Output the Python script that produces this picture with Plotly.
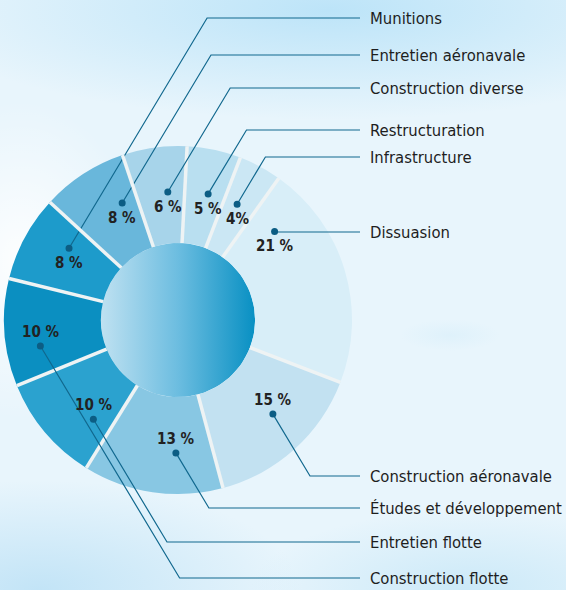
import numpy as np
import plotly.graph_objects as go

W, H = 566, 590

# données : répartition des crédits (sens horaire depuis midi)
postes = ["Restructuration", "Infrastructure", "Dissuasion", "Construction aéronavale",
          "Études et développement", "Entretien flotte", "Construction flotte",
          "Munitions", "Entretien aéronavale", "Construction diverse"]
parts = [5, 4, 21, 15, 13, 10, 10, 8, 8, 6]
etiquettes = ["5 %", "4%", "21 %", "15 %", "13 %", "10 %", "10 %", "8 %", "8 %", "6 %"]

couleurs = ["#b9dff0", "#cbe7f4", "#d8eef8", "#c2e1f1", "#88c7e3",
            "#2ba2cf", "#0b8fc1", "#1d9bcb", "#69b7db", "#a7d4ea"]

# mise en page
CX, CY, R = 178, 320, 174
TROU = 0.443
ROTATION = 3
label_y = [130, 157, 232, 476, 508, 542, 578, 18, 55, 88]
pos_point = [0.58, 0.42, 0.16, 0.44, 0.34, 0.24, 0.32, 0.68, 0.76, 0.65]
rayon_point = [0.745, 0.747, 0.753, 0.768, 0.764, 0.75, 0.805, 0.75, 0.745, 0.738]
X_FIN = 360
PENTE = 0.6
bleu_trait = "#11688e"
police = "DejaVu Sans Condensed, Liberation Sans Narrow, Roboto, sans-serif"

fig = go.Figure()


def nuage(cx, cy, rx, ry, rgb, alpha):
    t = np.linspace(0, 2 * np.pi, 80)
    fig.add_trace(go.Scatter(
        x=cx + rx * np.cos(t), y=cy + ry * np.sin(t), mode="lines",
        line=dict(width=0), fill="toself", hoverinfo="skip", showlegend=False,
        fillgradient=dict(type="radial", colorscale=[
            [0, "rgba(%d,%d,%d,%.2f)" % (rgb + (alpha,))],
            [1, "rgba(%d,%d,%d,0)" % rgb]])))


# fond ciel
nuage(330, 10, 420, 110, (186, 227, 248), 0.95)
nuage(40, 590, 260, 110, (190, 226, 246), 0.9)
nuage(470, 590, 220, 80, (196, 230, 247), 0.8)
nuage(450, 335, 50, 16, (205, 234, 249), 0.35)
nuage(20, 260, 120, 160, (255, 255, 255), 0.9)

# disque central
t = np.linspace(0, 2 * np.pi, 120)
fig.add_trace(go.Scatter(
    x=CX + TROU * R * np.cos(t), y=CY + TROU * R * np.sin(t), mode="lines",
    line=dict(width=0), fill="toself", hoverinfo="skip", showlegend=False,
    fillgradient=dict(type="horizontal",
                      colorscale=[[0, "#bfe1f1"], [0.5, "#6cbde0"], [1, "#0890c3"]])))

fig.add_trace(go.Pie(
    labels=postes, values=parts, sort=False, direction="clockwise",
    rotation=ROTATION, hole=TROU, textinfo="none", hoverinfo="label+percent",
    marker=dict(colors=couleurs, line=dict(width=0)),
    domain=dict(x=[(CX - R) / W, (CX + R) / W],
                y=[(H - CY - R) / H, (H - CY + R) / H]),
    showlegend=False))

total = sum(parts)
debut = ROTATION
for i, nom in enumerate(postes):
    # séparateur blanc au début de chaque part
    a0 = np.radians(debut)
    fig.add_shape(type="line", layer="above", xref="x", yref="y",
                  x0=CX + TROU * R * np.sin(a0), y0=CY - TROU * R * np.cos(a0),
                  x1=CX + R * np.sin(a0), y1=CY - R * np.cos(a0),
                  line=dict(color="#eef3f4", width=3.5))
    ouverture = 360 * parts[i] / total
    ang = np.radians(debut + pos_point[i] * ouverture)
    debut += ouverture
    px = CX + rayon_point[i] * R * np.sin(ang)
    py = CY - rayon_point[i] * R * np.cos(ang)
    ly = label_y[i]
    if abs(ly - py) < 3:
        chemin = "M %.1f %.1f L %d %.1f" % (px, ly, X_FIN, ly)
    else:
        coude = px + PENTE * abs(ly - py)
        chemin = "M %.1f %.1f L %.1f %.1f L %d %.1f" % (px, py, coude, ly, X_FIN, ly)
    fig.add_shape(type="path", path=chemin, layer="above", xref="x", yref="y",
                  line=dict(color=bleu_trait, width=1.2))
    fig.add_shape(type="circle", layer="above", xref="x", yref="y",
                  x0=px - 3.5, x1=px + 3.5, y0=py - 3.5, y1=py + 3.5,
                  fillcolor="#0c5d84", line=dict(width=0))
    dy = 15 if py < CY else -14
    fig.add_annotation(x=px, y=py + dy, text="<b>%s</b>" % etiquettes[i], showarrow=False,
                       font=dict(family=police, size=15, color="#222222"))
    fig.add_annotation(x=X_FIN + 8, y=ly, text=nom, showarrow=False, xanchor="left",
                       font=dict(family=police, size=16.5, color="#1e1e1e"))

fig.update_layout(
    width=W, height=H, margin=dict(l=0, r=0, t=0, b=0),
    paper_bgcolor="#e8f5fc", plot_bgcolor="rgba(0,0,0,0)",
    xaxis=dict(range=[0, W], visible=False, fixedrange=True),
    yaxis=dict(range=[H, 0], visible=False, fixedrange=True),
)

fig.write_html("out.html", config={"displayModeBar": False},
               post_script="document.body.style.margin='0';")
